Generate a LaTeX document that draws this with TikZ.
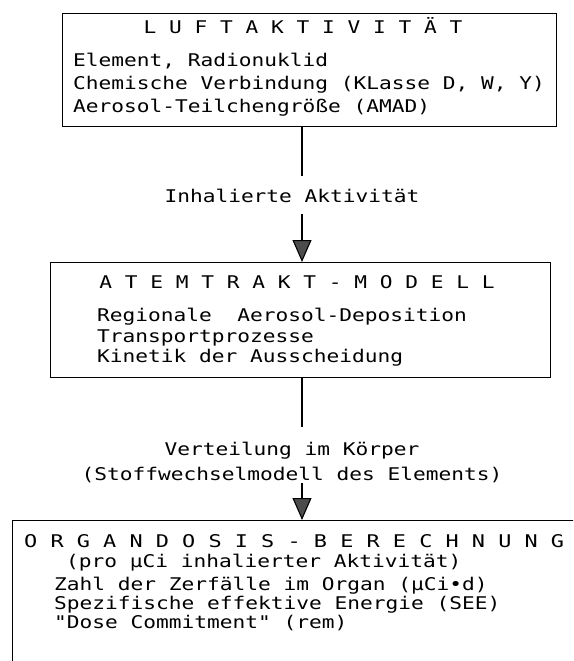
\documentclass[tikz,border=0pt]{standalone}
\usepackage{fontspec}
\usetikzlibrary{arrows.meta,positioning}
\newfontfamily\typewr[FakeStretch=1.21]{DejaVu Sans Mono}
\newfontfamily\typewrwide[FakeStretch=1.25]{DejaVu Sans Mono}

\begin{document}
\begin{tikzpicture}[
  x=1pt,y=-1pt,
  box/.style={draw,line width=1.4pt,inner sep=0pt,anchor=north west},
  txt/.style={inner sep=0pt,font=\typewr\fontsize{17.5}{23}\selectfont},
  body/.style={txt,align=left,anchor=north west,font=\typewr\fontsize{17.5}{#1}\selectfont},
  line/.style={line width=1.1pt},
  arrow/.style={line,-{Triangle[length=22pt,width=19pt,fill=black!70]}}
]
\useasboundingbox (0,0) rectangle (573,661);
\clip (0,0) rectangle (573,661);
\coordinate (ax) at (302,0);
% Luftaktivitaet
\node[box,minimum width=494pt,minimum height=113pt] (luft) at (62,13) {};
\node[txt,anchor=base] (luftT) at (303,34) {L U F T A K T I V I T Ä T};
\node[body=23] (luftB) at (73,53) {Element, Radionuklid\\Chemische Verbindung (KLasse D, W, Y)\\Aerosol-Teilchengröße (AMAD)};
% Atemtrakt
\node[box,minimum width=500pt,minimum height=115pt] (atem) at (50,262) {};
\node[txt,anchor=base] (atemT) at (297,288) {A T E M T R A K T - M O D E L L};
\node[body=20.5] (atemB) at (97,308) {Regionale\ \ Aerosol-Deposition\\Transportprozesse\\Kinetik der Ausscheidung};
% Organdosis
\node[box,minimum width=600pt,minimum height=200pt] (organ) at (12,520) {};
\node[txt,anchor=base west,font=\typewrwide\fontsize{17.5}{23}\selectfont] (organT) at (24,547) {O R G A N D O S I S - B E R E C H N U N G};
\node[txt,anchor=base west] (organP) at (66,567) {(pro µCi inhalierter Aktivität)};
\node[body=19] (organB) at (54,577) {Zahl der Zerfälle im Organ (µCi•d)\\Spezifische effektive Energie (SEE)\\"Dose Commitment" (rem)};
% Beschriftungen
\node[txt,anchor=base,inner ysep=12pt] (inh) at (292,202) {Inhalierte Aktivität};
\node[txt,align=center,anchor=north,font=\typewr\fontsize{17.5}{25}\selectfont] (vert) at (292,442) {Verteilung im Körper\\(Stoffwechselmodell des Elements)};
\draw[line] (luft.south -| ax) -- (inh.north -| ax);
\draw[arrow] (inh.south -| ax) -- (atem.north -| ax);
\draw[line,shorten >=15pt] (atem.south -| ax) -- (vert.north -| ax);
\draw[arrow] (vert.south -| ax) -- (organ.north -| ax);
\end{tikzpicture}
\end{document}
